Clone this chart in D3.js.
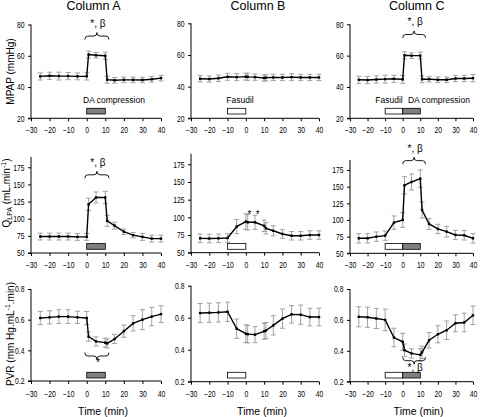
<!DOCTYPE html>
<html><head><meta charset="utf-8">
<script src="https://cdn.jsdelivr.net/npm/d3@7"></script>
<style>
html,body{margin:0;padding:0;background:#fff;}
svg{display:block;font-family:"Liberation Sans",Arial,sans-serif;}
</style></head>
<body>
<svg id="c" width="480" height="417"></svg>
<script>
// ---- data ----
const columns = ["Column A", "Column B", "Column C"];
const times = [-25,-20,-15,-10,-5,0,1,5,10,11,15,20,25,30,35,40];
const xTicks = [-30,-20,-10,0,10,20,30,40];

const mpapA = [46.8,47.2,47,47,46.8,46.8,60.8,60.3,60,44.7,44.3,44.6,44.6,44.5,45,45.7];
const mpapAErr = [2.3,2.3,2.5,2.3,2.2,2.3,2.2,1.8,2.3,2.2,1.8,1.8,1.8,1.8,1.8,1.8];
const mpapB = [45,44.8,45.3,46.2,46,46.3,46.2,46,45.5,45.7,45.8,45.8,46,45.8,45.8,45.8];
const mpapBErr = [2,2,2,2.2,2.2,2.2,2.2,2,2,2,2,2,2.2,2,2,2];
const mpapC = [44.6,44.4,44.8,45,45.2,44.8,60.2,60,60,44.9,45,44.6,44.6,45.4,45.4,45.6];
const mpapCErr = [2.3,2.3,2.3,2.5,2.3,2.5,2.2,1.8,2.2,2.2,1.8,1.8,1.8,2,2,2.3];

const qA = [74,74,74,74,73.5,73.5,121,131,131,97,90,81,76,73.5,71,71];
const qAErr = [5,5,5,5,5,5,9,8,9,8,5,4,4,5,5,5];
const qB = [70.3,70,70.3,70.8,87,94,93,93,88,84.5,81,76.5,74,74,75,75];
const qBErr = [6,6,6,6,10,11,11,10,8,8,7,6,6,6,6,6];
const qC = [72.5,72.5,75,76.5,96,100,152,157,162,115,94,86.5,82.5,77.5,77,72.5];
const qCErr = [7,7,7,7,10,11,13,12,13,12,8,7,8,7,7,7];

const pvrA = [0.611,0.615,0.62,0.62,0.615,0.611,0.489,0.458,0.45,0.445,0.474,0.525,0.576,0.6,0.62,0.636];
const pvrAErr = [0.043,0.043,0.045,0.045,0.04,0.043,0.03,0.03,0.03,0.03,0.03,0.04,0.05,0.065,0.06,0.055];
const pvrB = [0.629,0.631,0.633,0.637,0.531,0.5,0.497,0.494,0.515,0.52,0.552,0.594,0.621,0.619,0.604,0.604];
const pvrBErr = [0.06,0.06,0.06,0.06,0.06,0.055,0.055,0.05,0.05,0.05,0.06,0.06,0.055,0.06,0.055,0.055];
const pvrC = [0.62,0.617,0.609,0.6,0.486,0.458,0.404,0.383,0.374,0.39,0.468,0.507,0.533,0.578,0.583,0.63];
const pvrCErr = [0.065,0.065,0.065,0.07,0.06,0.055,0.04,0.03,0.04,0.04,0.05,0.055,0.06,0.055,0.06,0.06];

const mpapTicks = [20,40,60,80];
const qTicks = [50,75,100,125,150,175];
const pvrTicks = [0.2,0.4,0.6,0.8];

// treatment periods per column
const fasudilPeriod = [-10, 0];
const daPeriod = [0, 10];

// ---- layout ----
const svg = d3.select("#c");
const SX = 0.8; // horizontal compression of tick labels
const colX = [[31,161],[191,319],[350,473]];
const rows = [
  {key:"mpap", domain:[20,80], ticks:mpapTicks, fmt:d3.format("d"),
   ranges:[[118.3,24.5],[118.3,23.3],[118.3,24.3]], xlabY:132.7, barY:[108.3,114],
   series:[[mpapA,mpapAErr],[mpapB,mpapBErr],[mpapC,mpapCErr]]},
  {key:"q", domain:[50,190], ticks:qTicks, fmt:d3.format("d"),
   ranges:[[253,157],[252.7,153.7],[253.3,160]], xlabY:268.2, barY:[243.5,249.3],
   series:[[qA,qAErr],[qB,qBErr],[qC,qCErr]]},
  {key:"pvr", domain:[0.2,0.8], ticks:pvrTicks, fmt:d3.format(".1f"),
   ranges:[[381,289],[381.7,285.7],[381.7,289]], xlabY:396.7, barY:[372.3,378],
   series:[[pvrA,pvrAErr],[pvrB,pvrBErr],[pvrC,pvrCErr]]}
];

// annotations: row, col, brace (data units), text
const braces = [
  {r:0,c:0,x:[-1,12],y:72.6,dir:-1,text:"*, β"},
  {r:0,c:2,x:[0,13],y:73.5,dir:-1,text:"*, β"},
  {r:1,c:0,x:[-1,12],y:164,dir:-1,text:"*, β"},
  {r:1,c:2,x:[0,13],y:189,dir:-1,text:"*, β"},
  {r:2,c:0,x:[-1,12],y:0.363,dir:1,text:"*"},
  {r:2,c:2,x:[0,13],y:0.336,dir:1,text:"*, β"}
];
const stars = [{r:1,c:1,x:2,y:106},{r:1,c:1,x:6.5,y:106}];
const barLabels = [
  {r:0,c:0,x:-2,text:"DA compression",anchor:"start"},
  {r:0,c:1,x:-3.2,text:"Fasudil",anchor:"middle"},
  {r:0,c:2,x:-7.8,text:"Fasudil",anchor:"middle"},
  {r:0,c:2,x:3,text:"DA compression",anchor:"start"}
];
const colPeriods = [[{p:daPeriod,fill:"#7f7f7f"}],[{p:fasudilPeriod,fill:"#fff"}],
                    [{p:fasudilPeriod,fill:"#fff"},{p:daPeriod,fill:"#7f7f7f"}]];

const scales = {};
rows.forEach((row, ri) => {
  colX.forEach((cx, ci) => {
    const x = d3.scaleLinear().domain([-30,40]).range(cx);
    const y = d3.scaleLinear().domain(row.domain).range(row.ranges[ci]);
    scales[ri+"_"+ci] = {x,y};
    const g = svg.append("g");
    // axes
    const yAxis = d3.axisLeft(y).tickValues(row.ticks).tickFormat(row.fmt).tickSize(3).tickPadding(4);
    const ga = g.append("g").attr("transform", `translate(${cx[0]},0)`).call(yAxis);
    const xAxis = d3.axisBottom(x).tickValues(xTicks).tickSize(3).tickPadding(2).tickFormat(d3.format("d"));
    const gx = g.append("g").attr("transform", `translate(0,${row.ranges[ci][0]})`).call(xAxis);
    [ga,gx].forEach(a => {
      a.select(".domain").attr("stroke","#000").attr("stroke-width",1);
      a.selectAll(".tick line").attr("stroke","#000");
      a.selectAll("text").attr("font-size",8.5).attr("fill","#000")
        .attr("font-family","Liberation Sans, Arial, sans-serif");
    });
    ga.select(".domain").attr("d", `M-3,${row.ranges[ci][0]}H0V${row.ranges[ci][1]}`);
    gx.select(".domain").attr("d", `M${cx[0]},0H${cx[1]}`);
    ga.selectAll(".tick text").attr("x", -6.5 / SX).attr("transform", `scale(${SX},1)`);
    gx.selectAll(".tick text").attr("dy","0").attr("y", row.xlabY - row.ranges[ci][0])
      .attr("transform", `scale(${SX},1)`);

    // treatment bars
    colPeriods[ci].forEach(b => {
      g.append("rect").attr("x", x(b.p[0])).attr("width", x(b.p[1]) - x(b.p[0]))
        .attr("y", row.barY[0]).attr("height", row.barY[1]-row.barY[0])
        .attr("fill", b.fill).attr("stroke","#000").attr("stroke-width",0.8);
    });

    // data
    const [vals, errs] = row.series[ci];
    const pts = times.map((t,i) => ({t, v:vals[i], e:errs[i]}));
    const eb = g.append("g").attr("stroke","#a0a0a0").attr("stroke-width",1);
    pts.forEach(p => {
      const px = x(p.t), y0 = y(p.v - p.e), y1 = y(p.v + p.e);
      eb.append("line").attr("x1",px).attr("x2",px).attr("y1",y0).attr("y2",y1);
      eb.append("line").attr("x1",px-2.5).attr("x2",px+2.5).attr("y1",y0).attr("y2",y0);
      eb.append("line").attr("x1",px-2.5).attr("x2",px+2.5).attr("y1",y1).attr("y2",y1);
    });
    g.append("path").datum(pts)
      .attr("d", d3.line().x(d => x(d.t)).y(d => y(d.v)))
      .attr("fill","none").attr("stroke","#000").attr("stroke-width",1.4);
    g.selectAll("rect.m").data(pts).join("rect").attr("class","m")
      .attr("x", d => x(d.t)-1.2).attr("y", d => y(d.v)-1.2)
      .attr("width",2.4).attr("height",2.4).attr("fill","#000");
  });
});

// braces
function bracePath(x0, x1, y, d) {
  const xm = (x0 + x1) / 2;
  return `M${x0},${y - d} Q${x0},${y} ${x0+3},${y} L${xm-3},${y} Q${xm},${y} ${xm},${y+d} ` +
         `Q${xm},${y} ${xm+3},${y} L${x1-3},${y} Q${x1},${y} ${x1},${y - d}`;
}
braces.forEach(b => {
  const s = scales[b.r+"_"+b.c];
  const x0 = s.x(b.x[0]), x1 = s.x(b.x[1]), yy = s.y(b.y);
  const d = 3.5 * b.dir;
  svg.append("path").attr("d", bracePath(x0, x1, yy, d))
    .attr("fill","none").attr("stroke","#000").attr("stroke-width",0.9);
  const ty = b.dir < 0 ? yy - 9 : yy + 10;
  svg.append("text").attr("x",(x0+x1)/2 + 1).attr("y",ty).attr("text-anchor","middle")
    .attr("font-size",10).attr("fill","#000").text(b.text);
});
stars.forEach(st => {
  const s = scales[st.r+"_"+st.c];
  svg.append("text").attr("x", s.x(st.x)).attr("y", s.y(st.y)+5).attr("text-anchor","middle")
    .attr("font-size",10).attr("fill","#000").text("*");
});
barLabels.forEach(l => {
  const s = scales[l.r+"_"+l.c];
  svg.append("text").attr("x", s.x(l.x)).attr("y", rows[l.r].barY[0]-5)
    .attr("text-anchor", l.anchor).attr("font-size",8.5).attr("fill","#000").text(l.text);
});

// column titles
const titleX = [93.5, 258, 416.7];
columns.forEach((c,i) => {
  svg.append("text").attr("x", titleX[i]).attr("y", 10).attr("text-anchor","middle")
    .attr("font-size",12.5).attr("fill","#000").text(c);
  svg.append("text").attr("x", (colX[i][0]+colX[i][1])/2 + 7).attr("y", 415)
    .attr("text-anchor","middle").attr("font-size",10.5).attr("fill","#000").text("Time (min)");
});

// y-axis titles
function yTitle(cx, cy, build) {
  const t = svg.append("text").attr("transform", `translate(${cx},${cy}) rotate(-90)`)
    .attr("text-anchor","middle").attr("font-size",10).attr("fill","#000");
  build(t);
}
yTitle(13.5, 71.5, t => t.text("MPAP (mmHg)"));
yTitle(9.5, 193, t => {
  t.append("tspan").text("Q");
  t.append("tspan").attr("font-size",7).attr("dy",2.5).text("LPA");
  t.append("tspan").attr("dy",-2.5).text(" (mL.min");
  t.append("tspan").attr("font-size",7).attr("dy",-4).text("-1");
  t.append("tspan").attr("dy",4).text(")");
});
yTitle(13.5, 334, t => {
  t.append("tspan").text("PVR (mm Hg.mL");
  t.append("tspan").attr("font-size",7).attr("dy",-4).text("-1");
  t.append("tspan").attr("dy",4).text(".min)");
});
</script>
</body></html>
